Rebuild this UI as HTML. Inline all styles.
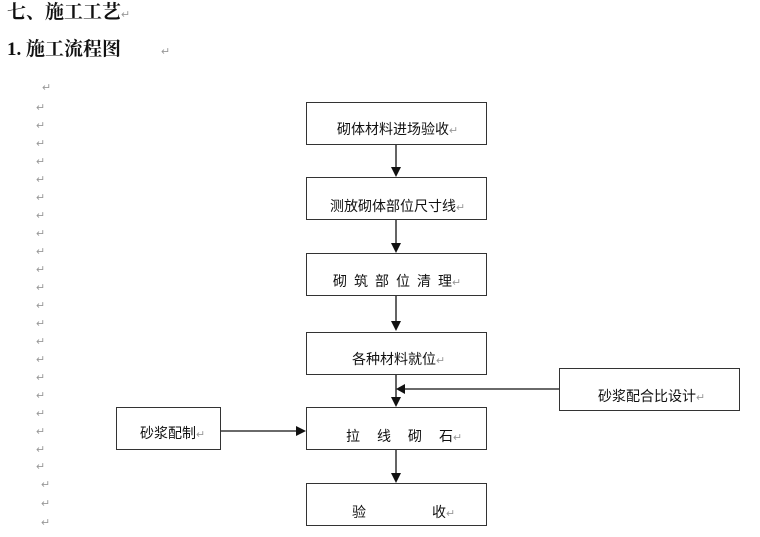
<!DOCTYPE html>
<html><head><meta charset="utf-8"><style>
body{margin:0;width:760px;height:537px;background:#fff;position:relative;overflow:hidden;font-family:"Liberation Sans","Noto Sans CJK SC",sans-serif;}
.h{position:absolute;font-family:"Liberation Serif","Noto Serif CJK SC",serif;font-weight:bold;font-size:19px;color:#111;line-height:22px;white-space:nowrap}
.b{position:absolute;border:1.3px solid #333;box-sizing:border-box;background:#fff}
.t{position:absolute;font-size:14px;line-height:16px;color:#111;white-space:nowrap}
.r{color:#999;font-size:11px;font-weight:normal}
.m{position:absolute;color:#999;font-size:11px;line-height:12px}
</style></head><body>
<div class="h" style="left:7px;top:2px">七、施工工艺<span class="r">↵</span></div>
<div class="h" style="left:7px;top:39px">1. 施工流程图<span class="r" style="margin-left:40px">↵</span></div>

<div class="b" style="left:306px;top:102px;width:181px;height:43px"></div>
<div class="b" style="left:306px;top:177px;width:181px;height:43px"></div>
<div class="b" style="left:306px;top:253px;width:181px;height:43px"></div>
<div class="b" style="left:306px;top:332px;width:181px;height:43px"></div>
<div class="b" style="left:306px;top:407px;width:181px;height:43px"></div>
<div class="b" style="left:306px;top:483px;width:181px;height:43px"></div>
<div class="b" style="left:559px;top:368px;width:181px;height:43px"></div>
<div class="b" style="left:116px;top:407px;width:105px;height:43px"></div>

<div class="t" style="left:337px;top:121px">砌体材料进场验收<span class="r">↵</span></div>
<div class="t" style="left:330px;top:198px">测放砌体部位尺寸线<span class="r">↵</span></div>
<div class="t" style="left:333px;top:273px;letter-spacing:7px">砌筑部位清<span style="letter-spacing:0">理</span><span class="r">↵</span></div>
<div class="t" style="left:352px;top:351px">各种材料就位<span class="r">↵</span></div>
<div class="t" style="left:346px;top:428px;letter-spacing:17px">拉线砌<span style="letter-spacing:0">石</span><span class="r">↵</span></div>
<div class="t" style="left:352px;top:504px">验<span style="margin-left:66px">收</span><span class="r">↵</span></div>
<div class="t" style="left:598px;top:388px">砂浆配合比设计<span class="r">↵</span></div>
<div class="t" style="left:140px;top:425px">砂浆配制<span class="r">↵</span></div>

<svg style="position:absolute;left:0;top:0" width="760" height="537">
<g stroke="#111" stroke-width="1.3" fill="none">
<line x1="396" y1="145" x2="396" y2="168"/>
<line x1="396" y1="220" x2="396" y2="244"/>
<line x1="396" y1="296" x2="396" y2="322"/>
<line x1="396" y1="375" x2="396" y2="398"/>
<line x1="396" y1="450" x2="396" y2="474"/>
<line x1="559" y1="389" x2="404" y2="389"/>
<line x1="221" y1="431" x2="297" y2="431"/>
</g>
<g fill="#111">
<polygon points="391,167 401,167 396,177"/>
<polygon points="391,243 401,243 396,253"/>
<polygon points="391,321 401,321 396,331"/>
<polygon points="391,397 401,397 396,407"/>
<polygon points="391,473 401,473 396,483"/>
<polygon points="405,384 405,394 396,389"/>
<polygon points="296,426 296,436 306,431"/>
</g>
</svg>

<div class="m" style="left:42px;top:82px">↵</div>
<div class="m" style="left:36px;top:102px">↵</div>
<div class="m" style="left:36px;top:120px">↵</div>
<div class="m" style="left:36px;top:138px">↵</div>
<div class="m" style="left:36px;top:156px">↵</div>
<div class="m" style="left:36px;top:174px">↵</div>
<div class="m" style="left:36px;top:192px">↵</div>
<div class="m" style="left:36px;top:210px">↵</div>
<div class="m" style="left:36px;top:228px">↵</div>
<div class="m" style="left:36px;top:246px">↵</div>
<div class="m" style="left:36px;top:264px">↵</div>
<div class="m" style="left:36px;top:282px">↵</div>
<div class="m" style="left:36px;top:300px">↵</div>
<div class="m" style="left:36px;top:318px">↵</div>
<div class="m" style="left:36px;top:336px">↵</div>
<div class="m" style="left:36px;top:354px">↵</div>
<div class="m" style="left:36px;top:372px">↵</div>
<div class="m" style="left:36px;top:390px">↵</div>
<div class="m" style="left:36px;top:408px">↵</div>
<div class="m" style="left:36px;top:426px">↵</div>
<div class="m" style="left:36px;top:444px">↵</div>
<div class="m" style="left:36px;top:461px">↵</div>
<div class="m" style="left:41px;top:479px">↵</div>
<div class="m" style="left:41px;top:498px">↵</div>
<div class="m" style="left:41px;top:517px">↵</div>
</body></html>
